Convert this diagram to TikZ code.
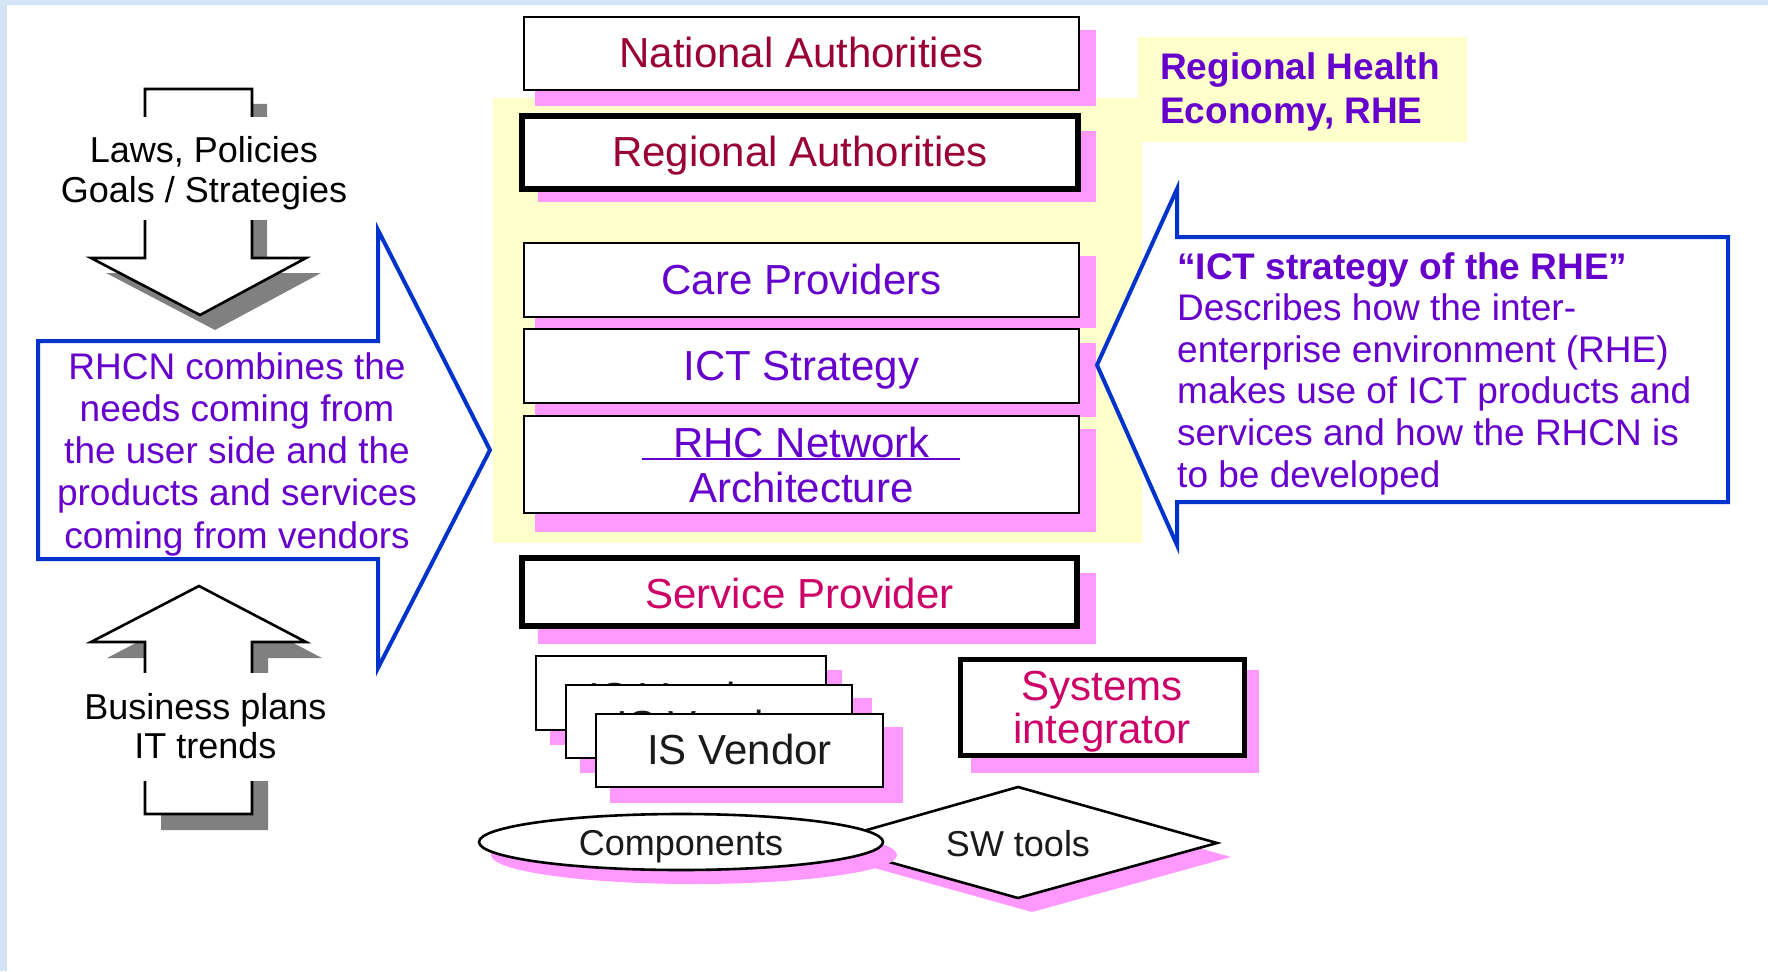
\documentclass[tikz,border=0pt]{standalone}
\usepackage{fontspec}
\setmainfont{Liberation Sans}
\usetikzlibrary{shapes.geometric}
\definecolor{dred}{HTML}{990033}
\definecolor{purp}{HTML}{6600CC}
\definecolor{pred}{HTML}{CC0066}
\definecolor{cblue}{HTML}{0033CC}
\definecolor{pshadow}{HTML}{FF99FF}
\definecolor{yel}{HTML}{FFFFCC}
\definecolor{gshadow}{HTML}{808080}
\definecolor{bgframe}{HTML}{D4E4F7}
\definecolor{dgray}{HTML}{1A1A1A}
\begin{document}
\begin{tikzpicture}[x=1pt,y=-1pt,
  framebox/.style={draw=black, line width=2.6pt, fill=white, inner sep=0pt, font=\fontsize{42}{45}\selectfont},
  onebox/.style={framebox, text height=30pt, text depth=2pt},
  thickbox/.style={onebox, line width=5.5pt},
  hiddenbox/.style={framebox, text height=38pt, text depth=0pt},
  calltext/.style={inner sep=0pt, font=\fontsize{37}{42.3}\selectfont},
  arrowtext/.style={inner sep=0pt, text=black, align=center},
  callout/.style={draw=cblue, line width=4pt, fill=white, line join=miter},
  bigarrow/.style={draw=black, line width=2.6pt, fill=white},
  smalllabel/.style={inner sep=0pt, text=dgray, font=\fontsize{36}{38}\selectfont, text height=26pt, text depth=0pt}]
\useasboundingbox (0,0) rectangle (1768,971);
\fill[white] (0,0) rectangle (1768,971);
\fill[bgframe] (0,0) rectangle (1768,5);
\fill[bgframe] (0,0) rectangle (7,971);

% yellow regional health economy region
\fill[yel] (493,98) rectangle (1142,543);
\fill[yel] (1138,37) rectangle (1467,142);
\node[inner sep=0pt, anchor=north west, align=left, text=purp, font=\bfseries\fontsize{37}{44}\selectfont] (rhe) at (1160,52) {Regional Health\\Economy, RHE};

% shadows of the central boxes
\fill[pshadow] (535,30) rectangle (1096,106);
\fill[pshadow] (538,131) rectangle (1096,202);
\fill[pshadow] (535,256) rectangle (1096,328);
\fill[pshadow] (535,343) rectangle (1096,417);
\fill[pshadow] (535,429) rectangle (1096,532);
\fill[pshadow] (538,573) rectangle (1096,644);
\fill[pshadow] (971,670) rectangle (1259,773);

\node[onebox, minimum width=555pt, minimum height=73pt, text=dred] (nat) at (801.5,53.5) {National Authorities};
\node[thickbox, minimum width=556pt, minimum height=73pt, text=dred] (reg) at (800,152.5) {Regional Authorities};
\node[onebox, minimum width=555pt, minimum height=74pt, text=purp] (care) at (801.5,280) {Care Providers};
\node[onebox, minimum width=555pt, minimum height=74pt, text=purp] (ict) at (801.5,366) {ICT Strategy};
\node[framebox, minimum width=555pt, minimum height=97pt, text=purp, align=center] (rhc) at (801.5,464.5) {RHC Network\\Architecture};
\draw[purp, line width=2.5pt] (642,459) -- (960,459);
\node[thickbox, minimum width=555pt, minimum height=68pt, text=pred, text height=32pt, text depth=0pt] (sp) at (799.5,592) {Service Provider};

% IS vendor stack
\fill[pshadow] (550,670) rectangle (842,745);
\node[hiddenbox, minimum width=290pt, minimum height=74pt, text=dgray] (is1) at (681,693) {IS Vendor};
\fill[pshadow] (580,698) rectangle (872,773);
\node[hiddenbox, minimum width=286pt, minimum height=73pt, text=dgray] (is2) at (709,721.5) {IS Vendor};
\fill[pshadow] (610,727) rectangle (903,803);
\node[onebox, minimum width=287pt, minimum height=73pt, text=dgray] (is3) at (739.5,750.5) {IS Vendor};

\node[framebox, line width=5pt, minimum width=284pt, minimum height=96pt, text=pred, align=center, font=\fontsize{42}{43}\selectfont, text depth=0pt] (si) at (1102,707) {Systems\\integrator};

% SW tools and components
\fill[pshadow] (835,857) -- (1032,801) -- (1231,857) -- (1032,912) -- cycle;
\draw[line width=2.6pt, fill=white, line join=miter] (821,843) -- (1018,787) -- (1217,843) -- (1018,898) -- cycle;
\node[smalllabel] (sw) at (1018,843) {SW tools};
\fill[pshadow] (694,855) ellipse [x radius=203pt, y radius=29pt];
\node[ellipse, draw=black, line width=2.6pt, fill=white, minimum width=404pt, minimum height=56pt, inner sep=0pt] (comp) at (681,842) {};
\node[smalllabel] (complabel) at (comp.center) {Components};

% left callout
\draw[callout] (38,341) -- (378,341) -- (378,230) -- (490,450) -- (378,668) -- (378,559) -- (38,559) -- cycle;
\node[calltext, anchor=north, align=center, text=purp] (lct) at (237,352) {RHCN combines the\\needs coming from\\the user side and the\\products and services\\coming from vendors};

% right callout
\draw[callout] (1728,237) -- (1177,237) -- (1177,189) -- (1097,365) -- (1177,545) -- (1177,502) -- (1728,502) -- cycle;
\node[calltext, anchor=north west, align=left, text=purp, font=\fontsize{37}{41.6}\selectfont] (rct) at (1177,252) {\textbf{“ICT strategy of the RHE”}\\Describes how the inter-\\enterprise environment (RHE)\\makes use of ICT products and\\services and how the RHCN is\\to be developed};

% down arrow
\fill[gshadow] (160,104) -- (267,104) -- (267,273) -- (321,273) -- (215,330) -- (106,273) -- (160,273) -- cycle;
\draw[bigarrow] (145,89) -- (252,89) -- (252,258) -- (306,258) -- (200,315) -- (91,258) -- (145,258) -- cycle;
\fill[white] (50,117) rectangle (360,220);
\node[arrowtext, anchor=north, font=\fontsize{36}{40}\selectfont] (laws) at (204,136) {Laws, Policies\\Goals / Strategies};

% up arrow
\fill[gshadow] (215,602) -- (322,658) -- (268,658) -- (268,830) -- (161,830) -- (161,658) -- (107,658) -- cycle;
\draw[bigarrow] (199,586) -- (306,642) -- (252,642) -- (252,814) -- (145,814) -- (145,642) -- (91,642) -- cycle;
\fill[white] (50,673) rectangle (360,781);
\node[arrowtext, anchor=north, font=\fontsize{36}{39}\selectfont] (biz) at (205.5,693) {Business plans\\IT trends};
\end{tikzpicture}
\end{document}
